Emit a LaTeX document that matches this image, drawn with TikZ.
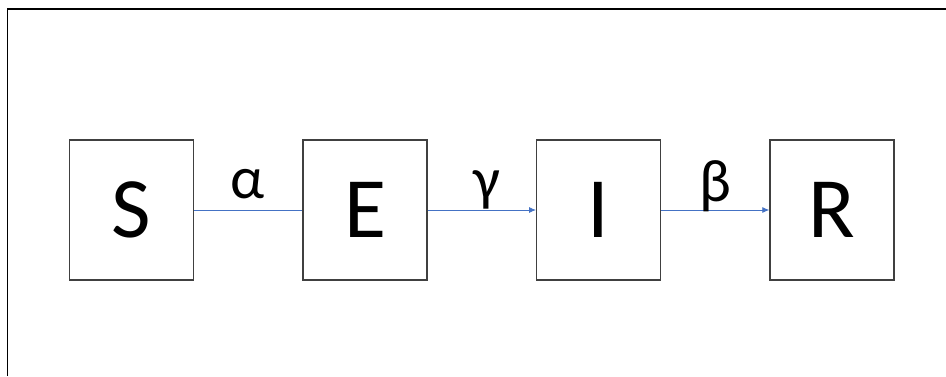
\documentclass[tikz,border=0pt]{standalone}
\usepackage{fontspec}
\setmainfont{Carlito}
\usetikzlibrary{arrows.meta}
\definecolor{arrowblue}{RGB}{68,114,196}
\definecolor{boxgray}{RGB}{64,64,64}
\begin{document}
\begin{tikzpicture}[x=1pt,y=-1pt,
  compbox/.style={draw=boxgray,line width=1.4pt,minimum width=124pt,minimum height=140pt,inner sep=0pt,font=\fontsize{86}{86}\selectfont},
  ratelabel/.style={font=\fontsize{60}{60}\selectfont,inner sep=0pt},
  flow/.style={draw=arrowblue,line width=0.8pt},
  flowarrow/.style={flow,-{Latex[length=7pt,width=6pt]}}
]
\useasboundingbox (0,0) rectangle (946,376);
\draw[line width=1.8pt] (7.5,376) -- (7.5,9.3) -- (946,9.3);
\node[compbox] (S) at (131.5,210) {S};
\node[compbox] (E) at (365,210) {E};
\node[compbox] (I) at (598.7,210) {I};
\node[compbox] (R) at (832,210) {R};
\draw[flow] (S.east) -- (E.west);
\draw[flowarrow] (E.east) -- (I.west);
\draw[flowarrow] (I.east) -- (R.west);
\node[ratelabel] (a) at (248,184) {α};
\node[ratelabel] (g) at (487,190) {γ};
\node[ratelabel] (b) at (715,186) {β};
\end{tikzpicture}
\end{document}
